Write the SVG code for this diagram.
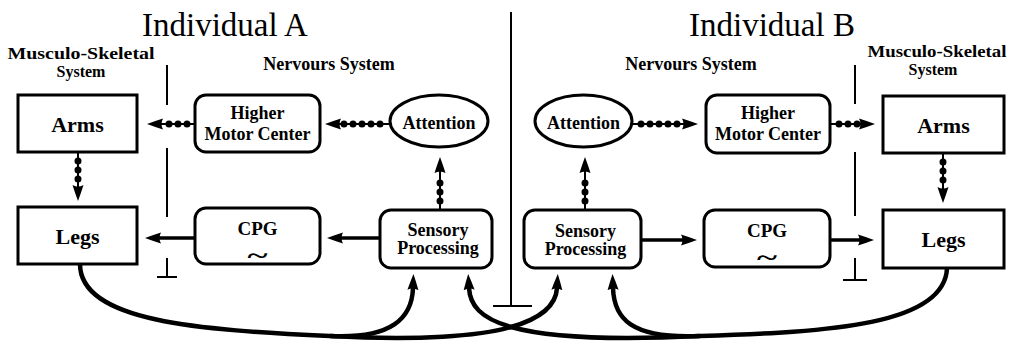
<svg xmlns="http://www.w3.org/2000/svg" width="1012" height="341" viewBox="0 0 1012 341">
<style>
.box{fill:#fff;stroke:#000;stroke-width:3}
.t{font-family:"Liberation Serif","Times New Roman",serif;font-weight:bold;text-anchor:middle;fill:#000}
.title{font-size:33px;font-weight:normal}
.sec{font-size:16px}
.nerv{font-size:18px}
.node{font-size:18px}
.big{font-size:22px}
.tilde{font-size:24px}
.solid{stroke:#000;stroke-width:3.5;fill:none}
.thin{stroke:#000;stroke-width:2;fill:none}
.beads{stroke:#000;stroke-width:7;stroke-dasharray:0 9;stroke-linecap:round;fill:none}
.curve{stroke:#000;stroke-width:4.5;fill:none}
.div{stroke:#000;stroke-width:2;fill:none}
</style>
<defs>
<marker id="ah" viewBox="0 0 16 12" refX="2" refY="6" markerWidth="16" markerHeight="12" markerUnits="userSpaceOnUse" orient="auto">
<path d="M0,0.5 Q8,3 16,6 Q8,9 0,11.5 Q3,6 0,0.5 Z" fill="#000"/>
</marker>
</defs>

<g id="titles">
<text class="t title" x="225" y="36">Individual A</text>
<text class="t title" x="772" y="36">Individual B</text>
<text class="t sec" x="81" y="59" textLength="147" lengthAdjust="spacingAndGlyphs">Musculo-Skeletal</text>
<text class="t sec" x="81" y="77">System</text>
<text class="t nerv" x="329" y="70">Nervours System</text>
<text class="t nerv" x="691" y="70">Nervours System</text>
<text class="t sec" x="937" y="57" textLength="139" lengthAdjust="spacingAndGlyphs">Musculo-Skeletal</text>
<text class="t sec" x="933" y="75">System</text>
</g>

<g id="dividers">
<path class="div" d="M511 12V306M493 306H532"/>
<path class="div" d="M167 65V105M167 148V217M167 258V277M157 277H177"/>
<path class="div" d="M855 65V104M855 152V216M855 258V280M843 280H867"/>
</g>

<g id="connectors">
<path class="thin" d="M195 124H161" marker-end="url(#ah)"/>
<path class="beads" d="M187 124H164"/>
<path class="thin" d="M390 124H339" marker-end="url(#ah)"/>
<path class="beads" d="M380 124H343"/>
<path class="thin" d="M440 210V171" marker-end="url(#ah)"/>
<path class="beads" d="M440 201V175"/>
<path class="thin" d="M78 152V187" marker-end="url(#ah)"/>
<path class="beads" d="M78 161V184"/>
<path class="thin" d="M632 124H684" marker-end="url(#ah)"/>
<path class="beads" d="M641 124H678"/>
<path class="thin" d="M830 124H861" marker-end="url(#ah)"/>
<path class="beads" d="M839 124H858"/>
<path class="thin" d="M585 210V171" marker-end="url(#ah)"/>
<path class="beads" d="M585 201V175"/>
<path class="thin" d="M943 153V189" marker-end="url(#ah)"/>
<path class="beads" d="M943 162V185"/>
<path class="solid" d="M380 238H341" marker-end="url(#ah)"/>
<path class="solid" d="M195 238H159" marker-end="url(#ah)"/>
<path class="solid" d="M641 240H683" marker-end="url(#ah)"/>
<path class="solid" d="M830 240H860" marker-end="url(#ah)"/>
<path class="curve" d="M80 264C80 322 200 330 330 336C392 339 412 318 413 288" marker-end="url(#ah)"/>
<path class="curve" d="M330 336C420 341 480 336 511 327C543 318 556 305 557 288" marker-end="url(#ah)"/>
<path class="curve" d="M947 268C945 325 830 332 700 336C630 339 614 318 613 288" marker-end="url(#ah)"/>
<path class="curve" d="M700 336C600 341 543 336 511 327C480 318 470 305 469 288" marker-end="url(#ah)"/>
</g>

<g id="armsA">
<rect class="box" x="18" y="95" width="119" height="57"/>
<text class="t big" x="77.5" y="132">Arms</text>
</g>
<g id="legsA">
<rect class="box" x="18" y="207" width="119" height="57"/>
<text class="t big" x="77.5" y="244">Legs</text>
</g>
<g id="hmcA">
<rect class="box" x="195" y="95" width="125" height="57" rx="11"/>
<text class="t node" x="257.5" y="119">Higher</text>
<text class="t node" x="257.5" y="140">Motor Center</text>
</g>
<g id="attentionA">
<ellipse class="box" cx="439" cy="121" rx="49" ry="26"/>
<text class="t node" x="439" y="129">Attention</text>
</g>
<g id="sensoryA">
<rect class="box" x="380" y="210" width="112" height="58" rx="11"/>
<text class="t node" x="438" y="236">Sensory</text>
<text class="t node" x="438" y="254">Processing</text>
</g>
<g id="cpgA">
<rect class="box" x="195" y="208" width="125" height="56" rx="11"/>
<text class="t node" x="257.5" y="235" style="font-size:19px">CPG</text>
<text class="t tilde" x="257.5" y="263" textLength="20" lengthAdjust="spacingAndGlyphs">~</text>
</g>

<g id="attentionB">
<ellipse class="box" cx="583.5" cy="121" rx="48.5" ry="26"/>
<text class="t node" x="583.5" y="129">Attention</text>
</g>
<g id="hmcB">
<rect class="box" x="706" y="95" width="124" height="58" rx="11"/>
<text class="t node" x="768" y="119">Higher</text>
<text class="t node" x="768" y="140">Motor Center</text>
</g>
<g id="armsB">
<rect class="box" x="883" y="96" width="121" height="57"/>
<text class="t big" x="943.5" y="133">Arms</text>
</g>
<g id="sensoryB">
<rect class="box" x="524" y="210" width="117" height="58" rx="11"/>
<text class="t node" x="585.5" y="237">Sensory</text>
<text class="t node" x="585.5" y="255">Processing</text>
</g>
<g id="cpgB">
<rect class="box" x="704" y="210" width="126" height="57" rx="11"/>
<text class="t node" x="767" y="237" style="font-size:19px">CPG</text>
<text class="t tilde" x="767" y="265" textLength="20" lengthAdjust="spacingAndGlyphs">~</text>
</g>
<g id="legsB">
<rect class="box" x="883" y="210" width="121" height="58"/>
<text class="t big" x="943.5" y="247">Legs</text>
</g>
</svg>
